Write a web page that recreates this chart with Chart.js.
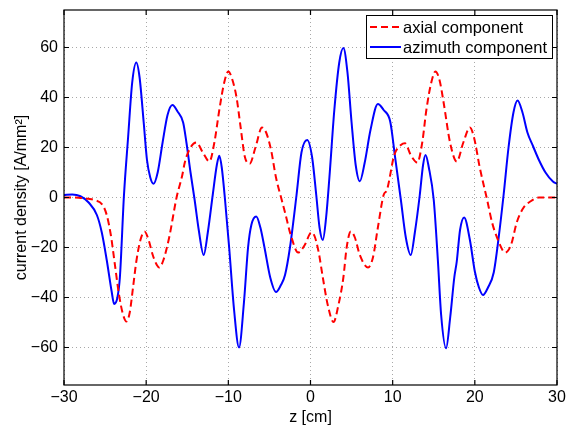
<!DOCTYPE html>
<html lang="en">
  <head>
    <meta charset="UTF-8" />
    <title>current density</title>
    <style>
      body {
        margin: 0;
        background-color: #fff;
      }
      .chart-container {
        width: 566px;
        height: 427px;
      }
    </style>
  </head>
  <body>
    <div class="chart-container">
      <canvas id="densityChart"></canvas>
    </div>

    <script src="https://cdn.jsdelivr.net/npm/chart.js"></script>
    <script>
      // z positions [cm] and values
      const axialZ = [
        -30, -29, -28, -27, -26.3, -25.3, -24.8, -24.3, -23.8, -23.3, -22.8,
        -22.4, -22.0, -21.6, -21.2, -20.7, -20.2, -19.7, -19.2, -18.7, -18.4,
        -17.9, -17.2, -16.3, -15.6, -15.3, -14.6, -13.9, -13.1, -12.3, -11.7,
        -11.1, -10.5, -10.0, -9.5, -9.0, -8.5, -8.0, -7.4, -6.7, -5.9, -5.4,
        -4.8, -4.2, -3.5, -3.1, -2.4, -1.5, -0.7, 0.1, 0.5, 1.0, 1.5, 2.1,
        2.8, 3.4, 4.0, 4.4, 4.9, 5.4, 6.0, 7.0, 7.6, 8.2, 8.9, 9.3, 10.2,
        11.0, 11.5, 12.2, 13.0, 13.6, 14.1, 14.7, 15.2, 15.7, 16.2, 17.0,
        17.8, 18.6, 19.4, 19.9, 20.6, 21.5, 22.1, 22.7, 23.7, 24.4, 25.1,
        25.9, 26.8, 27.8, 28.5, 30,
      ];
      const axialValues = [
        0, 0, -0.2, -0.5, -1, -3, -7, -15, -27, -39, -47, -49.6, -46, -36,
        -25.6, -17, -13.6, -17, -23, -27, -28, -25, -16, 0, 9, 14, 20, 22, 18,
        14.4, 22, 35, 46, 50.4, 47, 40, 28, 16.4, 13.5, 20, 28, 26, 19, 8, -1,
        -6, -15, -22, -19, -14, -15.5, -22, -32, -43, -49.8, -43, -32, -20,
        -13.6, -16, -23, -28, -24, -12, 1, 3, 17, 21, 21.7, 17, 14, 22, 35,
        46, 50.4, 47, 38, 21.7, 14.4, 22, 28, 24, 12, -1, -10, -16, -22, -19,
        -10, -4.2, -1.5, 0, 0, 0,
      ];

      const azimuthZ = [
        -30, -29, -28, -27, -26, -25.4, -24.8, -24.2, -23.9, -23.5, -23.2,
        -22.7, -22.2, -21.7, -21.2, -20.8, -20.3, -19.9, -19.5, -19.1, -18.6,
        -18.0, -17.4, -16.8, -16.2, -15.5, -15.1, -14.6, -14.1, -13.6, -13.0,
        -12.5, -11.9, -11.4, -11.1, -10.8, -10.4, -9.9, -9.3, -8.7, -8.1,
        -7.6, -7.2, -6.6, -6.1, -5.6, -4.9, -4.2, -3.6, -3.1, -2.5, -1.7,
        -1.1, -0.4, 0.2, 0.7, 1.1, 1.5, 1.9, 2.3, 2.9, 3.5, 4.0, 4.5, 5.0,
        5.5, 6.0, 6.6, 7.3, 8.2, 8.9, 9.7, 10.3, 11.0, 11.6, 12.2, 12.7,
        13.3, 13.7, 14.0, 14.4, 15.0, 15.5, 15.9, 16.5, 17.0, 17.5, 17.8,
        18.2, 18.7, 19.4, 20.0, 20.5, 21.0, 21.6, 22.3, 22.9, 23.5, 24.1,
        24.7, 25.2, 25.8, 26.4, 27.1, 27.8, 28.6, 29.5, 30,
      ];
      const azimuthValues = [
        1, 1.2, 0.5, -2, -7, -14, -25, -37.6, -42.6, -40, -32, 1, 24, 46, 54,
        48, 30, 15, 8, 5.5, 10, 22, 33, 37, 34.5, 30, 22, 10, -1, -13, -23,
        -14, 1, 13, 16.7, 12, -1, -20, -45, -60, -42, -20, -11, -7.6, -12,
        -20, -32, -37.8, -35, -31, -20, 1, 18, 23, 16, 1, -12, -17, -8, 8, 35,
        54, 59.8, 50, 30, 13, 6.5, 14, 27, 37.4, 35, 30.4, 16, -1, -16, -23,
        -14, 1, 13, 17, 12, -1, -25, -47, -60.3, -48, -32, -25.6, -13, -8,
        -17, -29.6, -36, -39, -36, -30, -16, 1, 20, 34, 38.8, 34, 26, 20.4,
        15, 10, 6.4, 5.5,
      ];

      const xTicks = [-30, -20, -10, 0, 10, 20, 30];
      const yTicks = [-60, -40, -20, 0, 20, 40, 60];

      const fontFamily = "'Liberation Sans', Arial, sans-serif";
      const minus = (v) => String(v).replace("-", "\u2212");

      // legend with a framed box inside the axes, MATLAB style
      const boxLegend = {
        id: "boxLegend",
        afterDraw(chart) {
          const ctx = chart.ctx;
          ctx.save();
          ctx.fillStyle = "#fff";
          ctx.fillRect(366.5, 15.5, 186, 43);
          ctx.strokeStyle = "#000";
          ctx.lineWidth = 1;
          ctx.strokeRect(366.5, 15.5, 186, 43);
          chart.data.datasets.forEach((ds, i) => {
            const y = 27 + i * 20;
            ctx.strokeStyle = ds.borderColor;
            ctx.lineWidth = ds.borderWidth;
            ctx.setLineDash(ds.borderDash || []);
            ctx.beginPath();
            ctx.moveTo(370, y);
            ctx.lineTo(401, y);
            ctx.stroke();
            ctx.setLineDash([]);
            ctx.fillStyle = "#000";
            ctx.font = "16.5px " + fontFamily;
            ctx.textBaseline = "middle";
            ctx.fillText(ds.label, 403, y + 1);
          });
          ctx.restore();
        },
      };

      // black frame with inward tick marks
      const axesFrame = {
        id: "axesFrame",
        afterDatasetsDraw(chart) {
          const { ctx, chartArea: a, scales } = chart;
          ctx.save();
          ctx.strokeStyle = "#000";
          ctx.lineWidth = 1.2;
          ctx.strokeRect(a.left, a.top, a.right - a.left, a.bottom - a.top);
          ctx.beginPath();
          xTicks.forEach((t) => {
            const x = scales.x.getPixelForValue(t);
            ctx.moveTo(x, a.bottom);
            ctx.lineTo(x, a.bottom - 5);
            ctx.moveTo(x, a.top);
            ctx.lineTo(x, a.top + 5);
          });
          yTicks.forEach((t) => {
            const y = scales.y.getPixelForValue(t);
            ctx.moveTo(a.left, y);
            ctx.lineTo(a.left + 5, y);
            ctx.moveTo(a.right, y);
            ctx.lineTo(a.right - 5, y);
          });
          ctx.stroke();
          ctx.restore();
        },
      };

      const gridStyle = {
        color: "#a8a8a8",
        lineWidth: 1,
        tickLength: 0,
        drawTicks: false,
      };

      const config = {
        type: "line",
        data: {
          datasets: [
            {
              label: "axial component",
              data: axialZ.map((z, i) => ({ x: z, y: axialValues[i] })),
              borderColor: "#ff0000",
              borderWidth: 2,
              borderDash: [7, 4],
              pointRadius: 0,
              cubicInterpolationMode: "monotone",
              fill: false,
            },
            {
              label: "azimuth component",
              data: azimuthZ.map((z, i) => ({ x: z, y: azimuthValues[i] })),
              borderColor: "#0000ff",
              borderWidth: 2,
              pointRadius: 0,
              cubicInterpolationMode: "monotone",
              fill: false,
            },
          ],
        },
        options: {
          responsive: false,
          animation: false,
          devicePixelRatio: 1,
          layout: { padding: { top: 10, right: 9, left: 0, bottom: 0 } },
          plugins: {
            legend: { display: false },
            tooltip: { enabled: false },
          },
          scales: {
            x: {
              type: "linear",
              min: -30,
              max: 30,
              afterBuildTicks: (s) => {
                s.ticks = xTicks.map((v) => ({ value: v }));
              },
              afterFit: (s) => {
                s.height = 42;
                s.paddingLeft = 0;
                s.paddingRight = 0;
              },
              grid: gridStyle,
              border: { display: false, dash: [1, 3] },
              ticks: {
                color: "#000",
                padding: 3,
                maxRotation: 0,
                font: { family: fontFamily, size: 16 },
                callback: (v) => minus(v),
              },
              title: {
                display: true,
                text: "z [cm]",
                color: "#000",
                padding: { top: -2, bottom: 0 },
                font: { family: fontFamily, size: 16 },
              },
            },
            y: {
              min: -75,
              max: 75,
              afterBuildTicks: (s) => {
                s.ticks = yTicks.map((v) => ({ value: v }));
              },
              afterFit: (s) => {
                s.width = 64;
                s.paddingTop = 0;
                s.paddingBottom = 0;
              },
              grid: gridStyle,
              border: { display: false, dash: [1, 3] },
              ticks: {
                color: "#000",
                padding: 6,
                font: { family: fontFamily, size: 16 },
                callback: (v) => minus(v),
              },
              title: {
                display: true,
                text: "current density [A/mm\u00b2]",
                color: "#000",
                padding: { top: 12, bottom: 0 },
                font: { family: fontFamily, size: 16 },
              },
            },
          },
        },
        plugins: [axesFrame, boxLegend],
      };

      const canvas = document.getElementById("densityChart");
      canvas.width = 566;
      canvas.height = 427;
      const densityChart = new Chart(canvas, config);
    </script>
  </body>
</html>
